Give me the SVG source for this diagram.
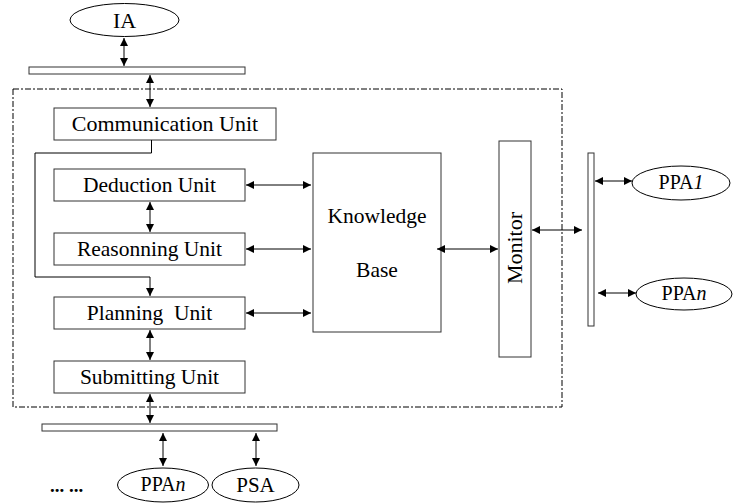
<svg xmlns="http://www.w3.org/2000/svg" width="735" height="503" viewBox="0 0 735 503">
<defs>
<marker id="ah" viewBox="0 0 10 10" refX="10" refY="5" markerWidth="8" markerHeight="8" markerUnits="userSpaceOnUse" orient="auto-start-reverse">
<path d="M0,0 L10,5 L0,10 z" fill="#000"/>
</marker>
<style>
.box{fill:#fff;stroke:#333;stroke-width:1}
.t{font-family:"Liberation Serif","Times New Roman",serif;fill:#000;text-anchor:middle}
.u{font-size:21.5px}
.p{font-size:20px}
.c{fill:none;stroke:#000;stroke-width:1}
.a{fill:none;stroke:#000;stroke-width:1;marker-start:url(#ah);marker-end:url(#ah)}
.e{fill:none;stroke:#000;stroke-width:1}
</style>
</defs>
<rect x="0" y="0" width="735" height="503" fill="#fff"/>
<g id="boundary"><rect x="13" y="89" width="549" height="318" fill="none" stroke="#000" stroke-width="1" stroke-dasharray="6,2,2,2"/></g>
<g id="IA"><ellipse cx="124.5" cy="20" rx="54.5" ry="16.5" class="e"/><text x="124.5" y="28" class="t" style="font-size:22px">IA</text></g>
<g id="topbar"><rect x="29" y="67" width="216" height="7" class="box"/></g>
<g id="comm"><rect x="54" y="108" width="222" height="32" class="box"/><text x="165" y="131" class="t" style="font-size:22px">Communication Unit</text></g>
<g id="deduction"><rect x="54" y="169" width="191" height="32" class="box"/><text x="149.5" y="192" class="t u">Deduction Unit</text></g>
<g id="reasoning"><rect x="54" y="233" width="191" height="32" class="box"/><text x="149.5" y="256" class="t u">Reasonning Unit</text></g>
<g id="planning"><rect x="54" y="297" width="191" height="32" class="box"/><text x="149.5" y="320" class="t u" xml:space="preserve">Planning  Unit</text></g>
<g id="submitting"><rect x="54" y="361" width="191" height="32" class="box"/><text x="149.5" y="384" class="t u">Submitting Unit</text></g>
<g id="kb"><rect x="313" y="153" width="128" height="179" class="box"/><text x="377" y="223" class="t u">Knowledge</text><text x="377" y="277" class="t u">Base</text></g>
<g id="monitor"><rect x="499" y="141" width="32" height="216" class="box"/><text transform="translate(522,248) rotate(-90)" x="0" y="0" class="t" style="font-size:22px">Monitor</text></g>
<g id="rightbar"><rect x="588" y="153" width="6" height="173" class="box"/></g>
<g id="PPA1"><ellipse cx="681" cy="183" rx="49" ry="17" class="e"/><text x="681" y="189" class="t p">PPA<tspan font-style="italic">1</tspan></text></g>
<g id="PPAn-right"><ellipse cx="684" cy="294" rx="48" ry="16" class="e"/><text x="684" y="300" class="t p">PPA<tspan font-style="italic">n</tspan></text></g>
<g id="bottombar"><rect x="42" y="424" width="235" height="7" class="box"/></g>
<g id="PPAn-bottom"><ellipse cx="163" cy="485" rx="45.5" ry="17" class="e"/><text x="163" y="491" class="t p">PPA<tspan font-style="italic">n</tspan></text></g>
<g id="PSA"><ellipse cx="255.5" cy="485" rx="43.5" ry="17" class="e"/><text x="255.5" y="492" class="t" style="font-size:21px">PSA</text></g>
<g id="dots"><text x="66.5" y="492" class="t" style="font-size:19px;font-weight:bold">... ...</text></g>
<g id="connectors">
<line x1="124" y1="38" x2="124" y2="66" class="a"/>
<line x1="150" y1="75" x2="150" y2="107" class="a"/>
<polyline points="151.5,140 151.5,153 35,153 35,277 150,277 150,296" class="c" marker-end="url(#ah)"/>
<line x1="150" y1="202" x2="150" y2="232" class="a"/>
<line x1="150" y1="330" x2="150" y2="360" class="a"/>
<line x1="150" y1="394" x2="150" y2="423" class="a"/>
<line x1="163" y1="433" x2="163" y2="466" class="a"/>
<line x1="256" y1="433" x2="256" y2="466" class="a"/>
<line x1="246" y1="185" x2="311" y2="185" class="a"/>
<line x1="246" y1="249" x2="311" y2="249" class="a"/>
<line x1="246" y1="313" x2="311" y2="313" class="a"/>
<line x1="437" y1="249" x2="498" y2="249" class="a"/>
<line x1="532" y1="230" x2="582" y2="230" class="a"/>
<line x1="595" y1="181" x2="632" y2="181" class="a"/>
<line x1="598" y1="293" x2="636" y2="293" class="a"/>
</g>
</svg>
